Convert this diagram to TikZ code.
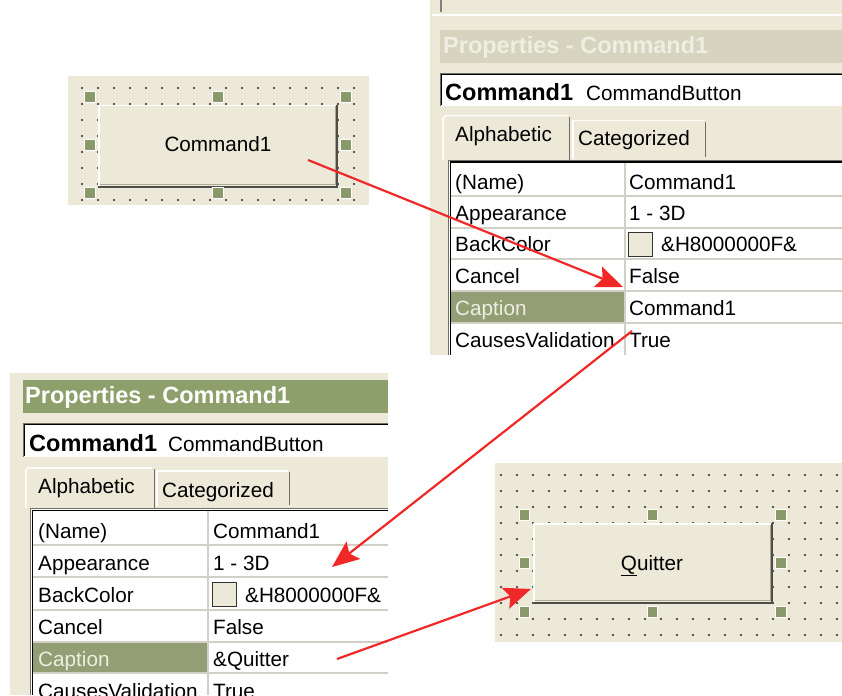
\documentclass[tikz,border=0pt]{standalone}
\usepackage{fontspec}
\setmainfont{Liberation Sans}
\usetikzlibrary{arrows.meta}

\definecolor{xpbeige}{HTML}{ECE9D8}
\definecolor{xpolive}{HTML}{8A996A}
\definecolor{xptitle}{HTML}{8DA06B}
\definecolor{xpdim}{HTML}{D6D4BE}
\definecolor{xpsel}{HTML}{939E74}
\definecolor{xpgrid}{HTML}{D2D0C6}
\definecolor{xpshade}{HTML}{716F64}
\definecolor{xpmid}{HTML}{ACA899}
\definecolor{arrowred}{RGB}{240,40,40}
\definecolor{captxt}{HTML}{EEEEE2}

\newcommand\uifont{\fontsize{20.7}{24}\selectfont}
\newcommand\uibold{\fontsize{23.5}{27}\selectfont\bfseries}

\tikzset{
  txt/.style={anchor=base west, inner sep=0pt, font=\uifont, text=black},
  ctxt/.style={anchor=base, inner sep=0pt, font=\uifont, text=black},
  btxt/.style={anchor=base west, inner sep=0pt, font=\uibold},
  handle/.style={draw=white, line width=0.6, fill=xpolive, minimum size=10.5, inner sep=0pt},
  formdot/.style={fill=black!85},
  redarrow/.style={draw=arrowred, line width=2.2, -{Stealth[length=27,width=22,inset=5]}},
  gridline/.style={draw=xpgrid, line width=1.2},
  panelbox/.style={inner sep=0pt, anchor=north west, draw=none},
  swatch/.style={draw=black!80, line width=1.2, fill=xpbeige, minimum size=23.5, inner sep=0pt, anchor=north west},
}

\begin{document}
\begin{tikzpicture}[x=1pt,y=-1pt]
\useasboundingbox (0,0) rectangle (842,695);
\clip (0,0) rectangle (842,695);
\fill[white] (0,0) rectangle (842,695);

% ===== Form with the Command1 button =====
\fill[xpbeige] (68,76) rectangle (369,205);
\foreach \i in {0,...,17} \foreach \j in {0,...,7}
  \fill[formdot] ({82+16*\i},{88+16*\j}) circle (1.15);
\node[panelbox, fill=xpbeige, minimum width=240, minimum height=82] (btnA) at (98,105) {};
\draw[white, line width=1.5] (98.75,186) -- (98.75,105.75) -- (337,105.75);
\draw[xpmid, line width=1.5] (99.5,184.5) -- (335.5,184.5) -- (335.5,106.5);
\draw[xpshade!70!black, line width=1.8] (98,186.75) -- (337.25,186.75) -- (337.25,105);
\node[ctxt] (capA) at (218,152) {Command1};
\foreach \hx/\hy/\n in {90/97/1,218/97/2,346/97/3,90/145/4,346/145/5,90/193/6,218/193/7,346/193/8}
  \node[handle] (hA\n) at (\hx,\hy) {};

% ===== Properties window (before) =====
\fill[xpbeige] (430,0) rectangle (842,355);
\draw[white, line width=1.2] (432,15) -- (842,15);
\draw[gray, line width=1.2] (441,0) -- (441,12);
\node[panelbox, fill=xpdim, minimum width=402, minimum height=33] (ttlA) at (440,30) {};
\node[btxt, text=captxt] (ttlAtxt) at (443,54) {Properties - Command1};
% object box
\node[panelbox, fill=white, minimum width=402, minimum height=33] (objA) at (440,73) {};
\draw[xpshade, line width=1] (440.5,106) -- (440.5,73.5) -- (842,73.5);
\draw[black, line width=1] (441.5,105) -- (441.5,74.5) -- (842,74.5);
\node[btxt] (objAname) at (445,101) {Command1};
\node[txt] (objAtype) at (586,101) {CommandButton};
% tabs
\draw[white, line width=1.5] (443,160) -- (443,118.5) -- (446,115.75) -- (568,115.75);
\draw[xpshade, line width=1.5] (569.5,117) -- (569.5,160);
\draw[white, line width=1.5] (573,159) -- (573,120.75) -- (704,120.75);
\draw[xpshade, line width=1.5] (705.5,122) -- (705.5,157);
\node[txt] (tabA1) at (455,142) {Alphabetic};
\node[txt] (tabA2) at (578,146) {Categorized};
% property grid
\fill[white] (448,160) rectangle (842,355);
\draw[xpshade, line width=1] (448.5,355) -- (448.5,160.5) -- (842,160.5);
\draw[black, line width=1.5] (450.25,355) -- (450.25,162.25) -- (842,162.25);
\fill[xpsel] (451,291.6) rectangle (624.4,322.4);
\foreach \y in {196,228,259,291,323} \draw[gridline] (451,\y) -- (842,\y);
\draw[gridline] (625,163) -- (625,355);
\node[txt] (pA1) at (455,189) {(Name)};
\node[txt] (pA2) at (455,220) {Appearance};
\node[txt] (pA3) at (455,251) {BackColor};
\node[txt] (pA4) at (455,283) {Cancel};
\node[txt, text=captxt] (pA5) at (455,315) {Caption};
\node[txt] (pA6) at (455,347) {CausesValidation};
\node[txt] (vA1) at (629,189) {Command1};
\node[txt] (vA2) at (629,220) {1 - 3D};
\node[swatch] (swA) at (628,232) {};
\node[txt] (vA3) at (661,251) {\&H8000000F\&};
\node[txt] (vA4) at (629,283) {False};
\node[txt] (vA5) at (629,315) {Command1};
\node[txt] (vA6) at (629,347) {True};

% ===== Properties window (after) =====
\fill[xpbeige] (10,373) rectangle (388,695);
\node[panelbox, fill=xptitle, minimum width=365, minimum height=33] (ttlB) at (23,380) {};
\node[btxt, text=white] (ttlBtxt) at (25,403) {Properties - Command1};
% object box
\node[panelbox, fill=white, minimum width=365, minimum height=34] (objB) at (23,423) {};
\draw[xpshade, line width=1] (23.5,457) -- (23.5,423.5) -- (388,423.5);
\draw[black, line width=1] (24.5,456) -- (24.5,424.5) -- (388,424.5);
\node[btxt] (objBname) at (29,451) {Command1};
\node[txt] (objBtype) at (168,451) {CommandButton};
% tabs
\draw[white, line width=1.5] (25.75,508) -- (25.75,470.5) -- (28.5,467.75) -- (152,467.75);
\draw[xpshade, line width=1.5] (154.25,469) -- (154.25,508);
\draw[white, line width=1.5] (157,506) -- (157,470.75) -- (288,470.75);
\draw[xpshade, line width=1.5] (289.5,472) -- (289.5,505);
\node[txt] (tabB1) at (38,493) {Alphabetic};
\node[txt] (tabB2) at (162,497) {Categorized};
% property grid (its last row runs past the lower edge)
\fill[white] (30,508) rectangle (388,695);
\draw[xpshade, line width=1] (30.5,695) -- (30.5,508.5) -- (388,508.5);
\draw[black, line width=1.5] (32.25,695) -- (32.25,510.25) -- (388,510.25);
\fill[xpsel] (33,642.6) rectangle (207.4,672.4);
\foreach \y in {545,577,610,642,673} \draw[gridline] (33,\y) -- (388,\y);
\draw[gridline] (208,511) -- (208,695);
\node[txt] (pB1) at (38,538) {(Name)};
\node[txt] (pB2) at (38,570) {Appearance};
\node[txt] (pB3) at (38,602) {BackColor};
\node[txt] (pB4) at (38,634) {Cancel};
\node[txt, text=captxt] (pB5) at (38,666) {Caption};
\node[txt] (pB6) at (38,698) {CausesValidation};
\node[txt] (vB1) at (213,538) {Command1};
\node[txt] (vB2) at (213,570) {1 - 3D};
\node[swatch] (swB) at (212,582) {};
\node[txt] (vB3) at (245,602) {\&H8000000F\&};
\node[txt] (vB4) at (213,634) {False};
\node[txt] (vB5) at (213,666) {\&Quitter};
\node[txt] (vB6) at (213,698) {True};

% ===== Form with the Quitter button =====
\fill[xpbeige] (495,463) rectangle (842,642);
\foreach \i in {0,...,21} \foreach \j in {0,...,10}
  \fill[formdot] ({501+16*\i},{475+16*\j}) circle (1.15);
\node[panelbox, fill=xpbeige, minimum width=240, minimum height=80] (btnB) at (533,523) {};
\draw[white, line width=1.5] (533.75,602) -- (533.75,523.75) -- (772,523.75);
\draw[xpmid, line width=1.5] (534.5,600.5) -- (770.5,600.5) -- (770.5,524.5);
\draw[xpshade!70!black, line width=1.8] (533,602.75) -- (772.25,602.75) -- (772.25,523);
\node[ctxt] (capB) at (652,570) {\underline{Q}uitter};
\foreach \hx/\hy/\n in {524.5/515/1,652.5/515/2,781/515/3,524.5/563/4,781/563/5,524.5/612/6,652.5/612/7,781/612/8}
  \node[handle] (hB\n) at (\hx,\hy) {};

% ===== Red arrows =====
\coordinate (a1s) at (308,160);
\coordinate (a1e) at (623,287);
\coordinate (a2s) at (632,331);
\coordinate (a2e) at (332,567);
\coordinate (a3s) at (337,659);
\coordinate (a3e) at (531,589);
\draw[redarrow] (a1s) -- (a1e);
\draw[redarrow] (a2s) -- (a2e);
\draw[redarrow] (a3s) -- (a3e);
\end{tikzpicture}
\end{document}
